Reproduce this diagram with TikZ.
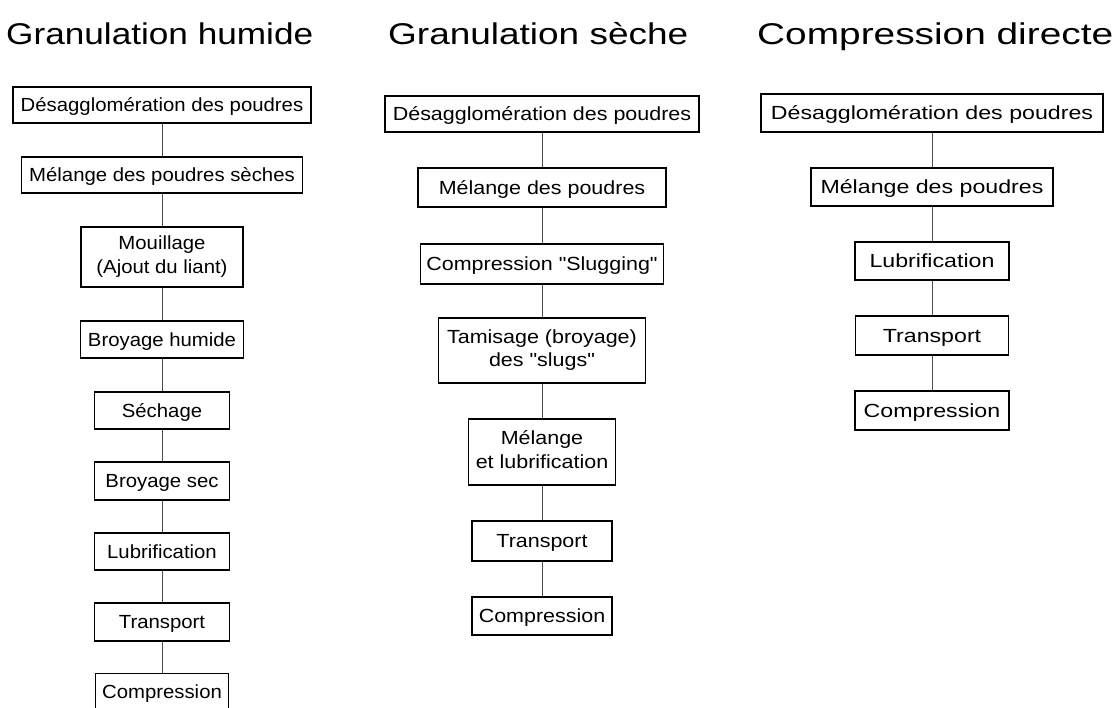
\documentclass[tikz,border=0pt]{standalone}
\usepackage{fontspec}
\setmainfont{Liberation Sans}[Ligatures=TeXOff]
\usepackage{graphicx}
\newcommand{\colA}[1]{\scalebox{1.07}[1]{#1}}
\newcommand{\colB}[1]{\scalebox{1.13}[1]{#1}}
\newcommand{\colC}[1]{\scalebox{1.22}[1]{#1}}
\newcommand{\twol}[2]{\begin{tabular}{@{}c@{}}#1\\#2\end{tabular}}
\newcommand{\ttl}[2]{\resizebox{#1pt}{\height}{#2}}
\tikzset{
  boxnode/.style={draw=black, line width=1.2pt, rectangle, inner sep=0pt,
    font=\fontsize{19}{23.5}\selectfont, text=black},
  oneline/.style={text height=13.6pt, text depth=0pt},
  link/.style={draw=black!70, line width=1pt},
  titlenode/.style={font=\fontsize{30}{36}\selectfont, inner sep=0pt, anchor=base west, text=black}
}
\begin{document}
\begin{tikzpicture}[x=1pt,y=-1pt]
\useasboundingbox[fill=white] (0,0) rectangle (1119,707);
\clip (0,0) rectangle (1119,707);

% titles
\node[titlenode] (t1) at (6,44) {\ttl{307}{Granulation humide}};
\node[titlenode] (t2) at (388,44) {\ttl{300}{Granulation sèche}};
\node[titlenode] (t3) at (757,44) {\ttl{356}{Compression directe}};

% column 1 : granulation humide
\node[boxnode,oneline,minimum width=298pt,minimum height=36pt] (a1) at (162,105) {\colA{Désagglomération des poudres}};
\node[boxnode,oneline,minimum width=281pt,minimum height=36pt] (a2) at (162,175) {\colA{Mélange des poudres sèches}};
\node[boxnode,minimum width=162pt,minimum height=60pt] (a3) at (162,257) {\colA{\twol{Mouillage}{(Ajout du liant)}}};
\node[boxnode,oneline,minimum width=163pt,minimum height=37pt] (a4) at (162,339.5) {\colA{Broyage humide}};
\node[boxnode,oneline,minimum width=135pt,minimum height=37pt] (a5) at (162,410.5) {\colA{Séchage}};
\node[boxnode,oneline,minimum width=135pt,minimum height=38pt] (a6) at (162,481) {\colA{Broyage sec}};
\node[boxnode,oneline,minimum width=135pt,minimum height=37pt] (a7) at (162,551.5) {\colA{Lubrification}};
\node[boxnode,oneline,minimum width=135pt,minimum height=38pt] (a8) at (162,622) {\colA{Transport}};
\node[boxnode,oneline,minimum width=133pt,minimum height=37pt] (a9) at (162,692) {\colA{Compression}};
\draw[link] (a1.south) -- (a2.north);
\draw[link] (a2.south) -- (a3.north);
\draw[link] (a3.south) -- (a4.north);
\draw[link] (a4.south) -- (a5.north);
\draw[link] (a5.south) -- (a6.north);
\draw[link] (a6.south) -- (a7.north);
\draw[link] (a7.south) -- (a8.north);
\draw[link] (a8.south) -- (a9.north);

% column 2 : granulation seche
\node[boxnode,oneline,minimum width=314pt,minimum height=36pt] (b1) at (542,114) {\colB{Désagglomération des poudres}};
\node[boxnode,oneline,minimum width=248pt,minimum height=39pt] (b2) at (542,187.5) {\colB{Mélange des poudres}};
\node[boxnode,oneline,minimum width=243pt,minimum height=40pt] (b3) at (542,264) {\colB{Compression "Slugging"}};
\node[boxnode,minimum width=207pt,minimum height=65pt] (b4) at (542,350.5) {\colB{\twol{Tamisage (broyage)}{des "slugs"}}};
\node[boxnode,minimum width=147pt,minimum height=66pt] (b5) at (542,452) {\colB{\twol{Mélange}{et lubrification}}};
\node[boxnode,oneline,minimum width=140pt,minimum height=40pt] (b6) at (542,541) {\colB{Transport}};
\node[boxnode,oneline,minimum width=140pt,minimum height=38pt] (b7) at (542,616) {\colB{Compression}};
\draw[link] (b1.south) -- (b2.north);
\draw[link] (b2.south) -- (b3.north);
\draw[link] (b3.south) -- (b4.north);
\draw[link] (b4.south) -- (b5.north);
\draw[link] (b5.south) -- (b6.north);
\draw[link] (b6.south) -- (b7.north);

% column 3 : compression directe
\node[boxnode,oneline,minimum width=342pt,minimum height=38pt] (c1) at (932,113) {\colC{Désagglomération des poudres}};
\node[boxnode,oneline,minimum width=242pt,minimum height=38pt] (c2) at (932,187) {\colC{Mélange des poudres}};
\node[boxnode,oneline,minimum width=154pt,minimum height=38pt] (c3) at (932,261) {\colC{Lubrification}};
\node[boxnode,oneline,minimum width=153pt,minimum height=39pt] (c4) at (932,335.5) {\colC{Transport}};
\node[boxnode,oneline,minimum width=154pt,minimum height=39pt] (c5) at (932,410.5) {\colC{Compression}};
\draw[link] (c1.south) -- (c2.north);
\draw[link] (c2.south) -- (c3.north);
\draw[link] (c3.south) -- (c4.north);
\draw[link] (c4.south) -- (c5.north);
\end{tikzpicture}
\end{document}
